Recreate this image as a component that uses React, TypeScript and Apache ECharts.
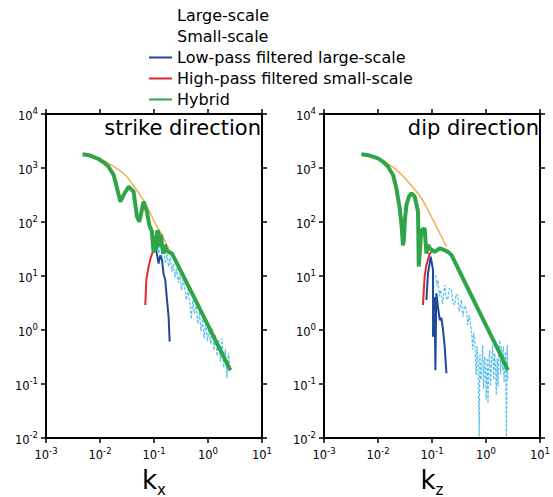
import React, { useEffect, useRef } from 'react';
import * as echarts from 'echarts';

const FONT = 'DejaVu Sans';

const seriesNames = [
  'Large-scale',
  'Small-scale',
  'Low-pass filtered large-scale',
  'High-pass filtered small-scale',
  'Hybrid',
];
const panelTitles = ['strike direction', 'dip direction'];
const axisSubscripts = ['x', 'z'];
const xRange = [0.001, 10];
const yRange = [0.01, 10000];

// ---- strike direction ----
const strikeLarge = [
  [0.00476, 1795], [0.00818, 1553], [0.0144, 1222], [0.0294, 741], [0.0451, 421],
  [0.0689, 222], [0.0984, 109], [0.1406, 57], [0.2004, 28],
];
const strikeSmall = [
  [0.1, 56], [0.107, 35], [0.115, 50], [0.123, 26], [0.132, 40], [0.141, 22], [0.151, 33],
  [0.162, 17], [0.174, 26], [0.186, 15], [0.2, 22], [0.214, 12], [0.229, 17], [0.245, 9.5],
  [0.263, 14], [0.282, 7.5], [0.302, 11], [0.324, 5.5], [0.347, 8.5], [0.372, 5.8],
  [0.398, 3.6], [0.427, 5.6], [0.457, 3.4], [0.49, 1.6], [0.525, 3.6], [0.562, 2.0],
  [0.603, 2.8], [0.646, 1.3], [0.692, 2.2], [0.741, 0.95], [0.794, 1.6], [0.851, 0.7],
  [0.912, 1.4], [0.977, 0.62], [1.047, 1.1], [1.122, 0.55], [1.202, 1.05], [1.288, 0.42],
  [1.38, 0.8], [1.479, 0.33], [1.585, 0.65], [1.698, 0.26], [1.82, 0.7], [1.95, 0.2],
  [2.089, 0.45], [2.239, 0.13], [2.399, 0.38], [2.57, 0.17],
];
const strikeLowPass = [
  [0.092, 53], [0.0984, 30], [0.105, 45], [0.11, 30], [0.1217, 17], [0.13, 24],
  [0.1406, 19.8], [0.15, 11], [0.1618, 8.4], [0.174, 3.6], [0.1864, 1.76], [0.195, 0.61],
];
const strikeHighPass = [
  [0.069, 2.9], [0.072, 8.4], [0.0794, 14.9], [0.0879, 22.7], [0.0958, 28.2], [0.106, 34],
];
const strikeHybrid = [
  [0.00476, 1795], [0.0066, 1700], [0.0094, 1468], [0.012, 1250], [0.0144, 1057],
  [0.0179, 741], [0.0207, 421], [0.0238, 238], [0.0285, 340], [0.0339, 451], [0.0419, 364],
  [0.0484, 125], [0.0535, 101], [0.0642, 238], [0.0741, 155], [0.0818, 88], [0.0918, 66],
  [0.095, 40], [0.0984, 27], [0.102, 55], [0.1057, 40], [0.11, 30], [0.115, 70],
  [0.1217, 62], [0.128, 35], [0.135, 58], [0.1406, 37], [0.1507, 26], [0.16, 38],
  [0.17, 30], [0.1864, 28], [0.2153, 26], [0.3, 13.5], [0.5, 4.9], [0.72, 2.35],
  [1.0, 1.22], [1.5, 0.54], [2.0, 0.305], [2.59, 0.18],
];

// ---- dip direction ----
const dipLarge = [
  [0.00493, 1795], [0.01, 1513], [0.0204, 986], [0.036, 557], [0.0637, 275],
  [0.0975, 125], [0.139, 62], [0.185, 35],
];
const dipSmall = [
  [0.117, 10.4], [0.123, 6.5], [0.129, 8.4], [0.137, 4.2], [0.145, 5.5], [0.158, 3.0],
  [0.172, 6.8], [0.183, 4.0], [0.195, 3.6], [0.21, 6.0], [0.229, 5.5], [0.245, 3.2],
  [0.263, 2.9], [0.28, 4.6], [0.299, 4.4], [0.32, 2.2], [0.35, 3.6], [0.375, 1.76],
  [0.4, 2.8], [0.433, 2.5], [0.458, 1.24], [0.49, 1.9], [0.537, 1.0], [0.568, 0.43],
  [0.59, 0.9], [0.618, 0.65], [0.659, 0.147], [0.68, 0.5], [0.711, 0.28], [0.748, 0.0106],
  [0.77, 0.35], [0.8, 0.12], [0.822, 0.136], [0.85, 0.4], [0.869, 0.53], [0.9, 0.08],
  [0.946, 0.32], [0.98, 0.15], [1.01, 0.05], [1.05, 0.3], [1.09, 0.044], [1.13, 0.25],
  [1.17, 0.43], [1.21, 0.09], [1.26, 0.21], [1.3, 0.38], [1.33, 0.53], [1.39, 0.12],
  [1.45, 0.37], [1.5, 0.2], [1.55, 0.0625], [1.61, 0.3], [1.67, 0.089], [1.73, 0.45],
  [1.79, 0.65], [1.86, 0.15], [1.93, 0.49], [1.98, 0.25], [2.04, 0.18], [2.1, 0.5],
  [2.16, 0.11], [2.22, 0.28], [2.3, 0.4], [2.39, 0.0106], [2.47, 0.53], [2.52, 0.12],
];
const dipLowPass = [
  [0.0787, 3.6], [0.0843, 11.2], [0.0946, 22.7], [0.1045, 12.9], [0.1045, 0.75],
  [0.112, 4.1], [0.1156, 0.18], [0.1205, 4.8], [0.129, 2.7], [0.139, 1.53], [0.149, 1.67],
  [0.16, 1.0], [0.172, 0.49], [0.185, 0.158],
];
const dipHighPass = [
  [0.068, 2.9], [0.073, 9.7], [0.0787, 16], [0.0906, 26], [0.0975, 28],
];
const dipHybrid = [
  [0.00493, 1795], [0.007, 1700], [0.01, 1513], [0.0125, 1300], [0.0153, 1057],
  [0.019, 741], [0.0219, 421], [0.0252, 180], [0.0272, 90], [0.029, 37], [0.03, 45],
  [0.0315, 110], [0.0336, 206], [0.0375, 300], [0.0416, 340], [0.0479, 294],
  [0.0551, 155], [0.0568, 15], [0.0637, 71], [0.0733, 76], [0.0787, 26], [0.0843, 37.5],
  [0.0906, 32.6], [0.112, 28], [0.139, 32.6], [0.172, 30], [0.198, 28], [0.229, 24.5],
  [0.5, 5.0], [1.0, 1.22], [1.585, 0.48], [2.55, 0.18],
];

const panels = [
  { large: strikeLarge, small: strikeSmall, low: strikeLowPass, high: strikeHighPass, hybrid: strikeHybrid },
  { large: dipLarge, small: dipSmall, low: dipLowPass, high: dipHighPass, hybrid: dipHybrid },
];

const colors = {
  large: '#F3AE4E',
  small: '#5BBFE8',
  low: '#1F4A9C',
  high: '#E2292E',
  hybrid: '#2FA548',
};

const gridLefts = [46, 324];
const GRID_TOP = 114;
const GRID_W = 216;
const GRID_H = 324;

function tickFormatter(v: number) {
  const e = Math.round(Math.log10(v));
  return '{b|10}{e|' + e + '}';
}

const tickRich = {
  b: { fontSize: 11.5, lineHeight: 15, verticalAlign: 'bottom', fontFamily: FONT, color: '#000' },
  e: { fontSize: 8.5, lineHeight: 10, verticalAlign: 'top', fontFamily: FONT, color: '#000' },
};

export default function App() {
  const ref = useRef<HTMLDivElement>(null);
  useEffect(() => {
    if (!ref.current) return;
    const chart = echarts.init(ref.current, null, { renderer: 'svg' });

    const grid: any[] = [];
    const xAxis: any[] = [];
    const yAxis: any[] = [];
    const series: any[] = [];
    const title: any[] = [];

    const axisLine = { show: true, onZero: false, lineStyle: { color: '#000', width: 2 } };
    const axisTick = { show: true, inside: false, length: 5, lineStyle: { color: '#000', width: 1.5 } };

    panels.forEach((p, i) => {
      grid.push({
        left: gridLefts[i], top: GRID_TOP, width: GRID_W, height: GRID_H,
        containLabel: false, outerBoundsMode: 'none',
      });
      xAxis.push({
        type: 'log', logBase: 10, gridIndex: i, position: 'bottom',
        min: xRange[0], max: xRange[1],
        axisLine, axisTick, splitLine: { show: false }, minorTick: { show: false },
        axisLabel: { show: true, margin: 8, formatter: tickFormatter, rich: tickRich, showMinLabel: true, showMaxLabel: true },
        name: '{k|k}{s|' + axisSubscripts[i] + '}',
        nameLocation: 'middle', nameGap: 29,
        nameTextStyle: {
          rich: {
            k: { fontSize: 26, lineHeight: 30, fontFamily: FONT, color: '#000', verticalAlign: 'top' },
            s: { fontSize: 15, lineHeight: 13, fontFamily: FONT, color: '#000', verticalAlign: 'bottom' },
          },
        },
      });
      xAxis.push({
        type: 'log', logBase: 10, gridIndex: i, position: 'top',
        min: xRange[0], max: xRange[1],
        axisLine, axisTick, splitLine: { show: false }, axisLabel: { show: false },
      });
      yAxis.push({
        type: 'log', logBase: 10, gridIndex: i, position: 'left',
        min: yRange[0], max: yRange[1],
        axisLine, axisTick, splitLine: { show: false },
        axisLabel: { show: true, margin: 8, formatter: tickFormatter, rich: tickRich, showMinLabel: true, showMaxLabel: true },
      });
      yAxis.push({
        type: 'log', logBase: 10, gridIndex: i, position: 'right',
        min: yRange[0], max: yRange[1],
        axisLine, axisTick, splitLine: { show: false }, axisLabel: { show: false },
      });

      const xi = i * 2;
      const yi = i * 2;
      const base = { type: 'line', xAxisIndex: xi, yAxisIndex: yi, symbol: 'none', showSymbol: false, clip: true };
      series.push({ ...base, name: seriesNames[1], data: p.small, lineStyle: { color: colors.small, width: 1.2, type: [3, 1.5] }, itemStyle: { color: colors.small } });
      series.push({ ...base, name: seriesNames[0], data: p.large, smooth: 0.3, lineStyle: { color: colors.large, width: 1.5 }, itemStyle: { color: colors.large } });
      series.push({ ...base, name: seriesNames[3], data: p.high, lineStyle: { color: colors.high, width: 2 }, itemStyle: { color: colors.high } });
      series.push({ ...base, name: seriesNames[2], data: p.low, lineStyle: { color: colors.low, width: 2 }, itemStyle: { color: colors.low } });
      series.push({ ...base, name: seriesNames[4], data: p.hybrid, lineStyle: { color: colors.hybrid, width: 4 }, itemStyle: { color: colors.hybrid } });

      title.push({
        text: panelTitles[i],
        right: 553 - (gridLefts[i] + GRID_W) + 1,
        top: 117,
        padding: 0,
        textStyle: { fontSize: 21, fontWeight: 'normal', fontFamily: FONT, color: '#000' },
      });
    });

    chart.setOption({
      animation: false,
      backgroundColor: '#fff',
      textStyle: { fontFamily: FONT },
      title,
      legend: {
        orient: 'vertical',
        left: 148,
        top: 5,
        padding: 0,
        itemGap: 0,
        itemWidth: 23,
        itemHeight: 10,
        itemStyle: { opacity: 0 },
        lineStyle: { type: 'solid' },
        textStyle: { fontSize: 16, lineHeight: 21, fontFamily: FONT, color: '#000' },
        data: [
          { name: seriesNames[0], icon: 'none' },
          { name: seriesNames[1], icon: 'none' },
          { name: seriesNames[2] },
          { name: seriesNames[3] },
          { name: seriesNames[4] },
        ],
      },
      grid,
      xAxis,
      yAxis,
      series,
    });
    return () => chart.dispose();
  }, []);
  return (
    <div
      ref={ref}
      style={{ position: 'fixed', left: 0, top: 0, width: 553, height: 497, background: '#fff' }}
    />
  );
}
